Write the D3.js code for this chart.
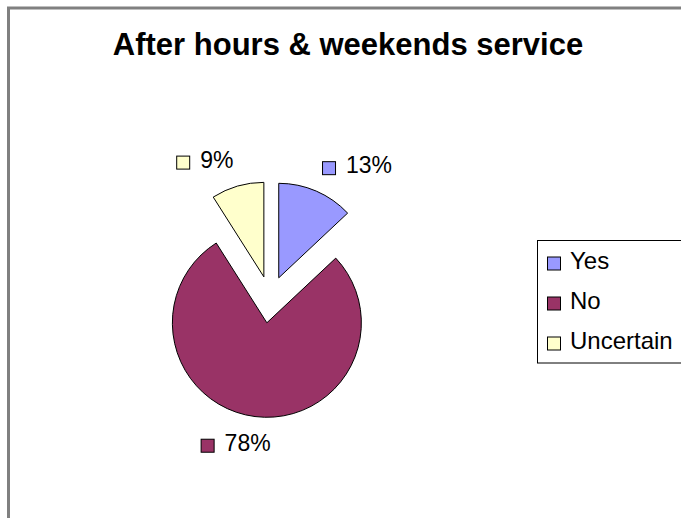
<!DOCTYPE html>
<html>
<head>
<meta charset="utf-8">
<script src="https://cdn.jsdelivr.net/npm/d3@7"></script>
<style>
  body { margin: 0; background: #fff; overflow: hidden; }
  svg { display: block; font-family: "Liberation Sans", Arial, sans-serif; }
</style>
</head>
<body>
<svg id="chart" width="681" height="518"></svg>
<script>
// slices, clockwise from 12 o'clock
var categories = ['Yes', 'No', 'Uncertain'];
var values = [13, 78, 9];
var labels = ['13%', '78%', '9%'];
var colors = ['#9999ff', '#993366', '#ffffcc'];
var explode = [22, 25, 22];

var svg = d3.select('#chart');

// grey outer frame (only left and top show inside the window)
svg.append('rect')
  .attr('x', 8.5).attr('y', 8)
  .attr('width', 800).attr('height', 700)
  .attr('fill', '#fff')
  .attr('stroke', '#808080')
  .attr('stroke-width', 3);

svg.append('text')
  .attr('x', 348).attr('y', 55)
  .attr('text-anchor', 'middle')
  .attr('font-size', 31)
  .attr('font-weight', 'bold')
  .text('After hours & weekends service');

var cx = 270, cy = 298, radius = 94.5;

var pie = d3.pie().sort(null).value(function(d) { return d; });
var arc = d3.arc().innerRadius(0).outerRadius(radius);
var arcs = pie(values);

var g = svg.append('g').attr('transform', 'translate(' + cx + ',' + cy + ')');

function dir(d) {
  var a = (d.startAngle + d.endAngle) / 2;
  return [Math.sin(a), -Math.cos(a)];
}

g.selectAll('path.slice')
  .data(arcs)
  .enter().append('path')
  .attr('class', 'slice')
  .attr('d', arc)
  .attr('fill', function(d, i) { return colors[i]; })
  .attr('stroke', '#000')
  .attr('stroke-width', 1)
  .attr('transform', function(d, i) {
    var v = dir(d);
    return 'translate(' + v[0] * explode[i] + ',' + v[1] * explode[i] + ')';
  });

// data labels: swatch + percent, box corner on the bisector
var fs = 23, sw = 13, gap = 10;
arcs.forEach(function(d, i) {
  var v = dir(d);
  var dist = explode[i] + radius + 14.5;
  var px = v[0] * dist, py = v[1] * dist;
  var lg = g.append('g');
  var t = lg.append('text')
    .attr('font-size', fs)
    .attr('x', sw + 1 + gap)
    .attr('y', 0)
    .text(labels[i]);
  var tw = t.node().getComputedTextLength();
  var bw = sw + 1 + gap + tw;
  var asc = fs * 0.86, desc = fs * 0.2;
  var sx = Math.max(-1, Math.min(1, v[0] * 4));
  var sy = Math.max(-1, Math.min(1, v[1] * 4));
  var bx = px + sx * bw / 2, by = py + sy * (asc + desc) / 2;
  var left = bx - bw / 2, base = by + (asc - desc) / 2;
  lg.attr('transform', 'translate(' + left + ',' + base + ')');
  lg.append('rect')
    .attr('x', 0.5).attr('y', -11.5)
    .attr('width', sw).attr('height', sw)
    .attr('fill', colors[i])
    .attr('stroke', '#000');
});

// legend
var legend = svg.append('g').attr('transform', 'translate(537.5,240.5)');
legend.append('rect')
  .attr('width', 200).attr('height', 122.5)
  .attr('fill', '#fff')
  .attr('stroke', '#000');

var rows = legend.selectAll('g.row')
  .data(categories)
  .enter().append('g')
  .attr('class', 'row')
  .attr('transform', function(d, i) { return 'translate(0,' + (28.5 + i * 40) + ')'; });

rows.append('rect')
  .attr('x', 10).attr('y', -12)
  .attr('width', 13).attr('height', 13)
  .attr('fill', function(d, i) { return colors[i]; })
  .attr('stroke', '#000');

rows.append('text')
  .attr('x', 32.5).attr('y', 0)
  .attr('font-size', 24)
  .text(function(d) { return d; });
</script>
</body>
</html>
